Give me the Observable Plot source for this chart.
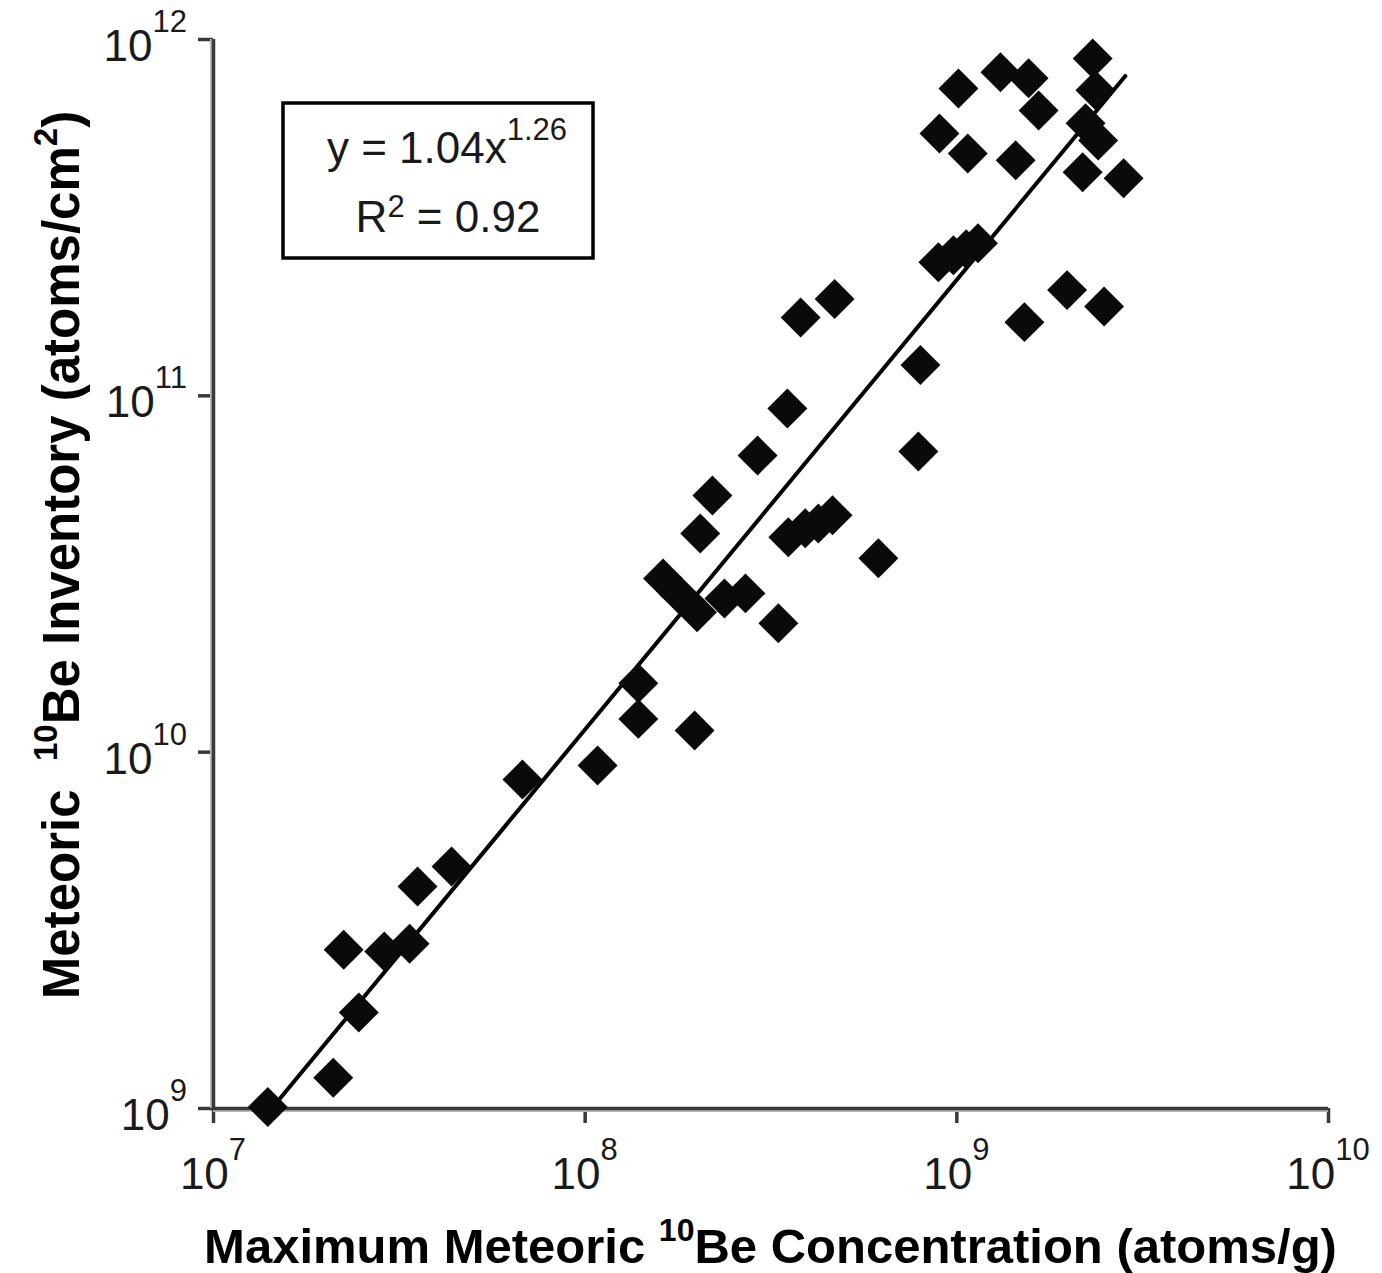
<!DOCTYPE html>
<html>
<head>
<meta charset="utf-8">
<script src="https://cdn.jsdelivr.net/npm/d3@7"></script>
<script src="https://cdn.jsdelivr.net/npm/@observablehq/plot@0.6"></script>
<style>
  html, body { margin: 0; padding: 0; background: #fff; }
  #chart svg { display: block; }
</style>
</head>
<body>
<div id="chart"></div>
<script>
// ---- data ----
const concentration = [
  1.40e7, 2.10e7, 2.46e7, 2.24e7, 2.88e7, 3.37e7, 3.54e7, 4.37e7,
  6.78e7, 1.08e8, 1.39e8, 1.39e8, 1.97e8, 1.62e8, 1.80e8, 2.00e8,
  2.37e8, 2.70e8, 2.04e8, 2.20e8, 2.91e8, 3.50e8, 3.31e8, 3.52e8,
  3.91e8, 4.24e8, 4.63e8, 6.15e8, 3.80e8, 4.69e8, 7.98e8, 7.88e8,
  8.92e8, 9.79e8, 1.06e9, 1.14e9, 1.52e9, 1.98e9, 2.49e9, 8.98e8,
  1.07e9, 1.44e9, 1.01e9, 1.31e9, 1.56e9, 1.66e9, 2.32e9, 2.36e9,
  2.22e9, 2.40e9, 2.18e9, 2.81e9
];
const inventory = [
  1.01e9, 1.22e9, 1.86e9, 2.79e9, 2.76e9, 2.90e9, 4.20e9, 4.78e9,
  8.38e9, 9.18e9, 1.56e10, 1.24e10, 1.15e10, 3.07e10, 2.75e10, 2.47e10,
  2.70e10, 2.79e10, 4.11e10, 5.25e10, 6.80e10, 9.22e10, 2.30e10, 4.01e10,
  4.25e10, 4.38e10, 4.62e10, 3.50e10, 1.66e11, 1.87e11, 1.22e11, 6.98e10,
  2.37e11, 2.48e11, 2.58e11, 2.68e11, 1.61e11, 1.98e11, 1.78e11, 5.45e11,
  4.79e11, 4.58e11, 7.29e11, 8.09e11, 7.78e11, 6.32e11, 8.85e11, 7.20e11,
  5.82e11, 5.21e11, 4.24e11, 4.08e11
];
// fitted power-law trend line endpoints
const trendX = [1.40e7, 2.84e9];
const trendY = [9.7e8, 7.9e11];

const xTicks = [1e7, 1e8, 1e9, 1e10];
const yTicks = [1e9, 1e10, 1e11, 1e12];

// text parts: [text, isSuperscript]
const xTitleParts = [["Maximum Meteoric ", false], ["10", true], ["Be Concentration (atoms/g)", false]];
const yTitleParts = [["Meteoric  ", false], ["10", true], ["Be Inventory (atoms/cm", false], ["2", true], [")", false]];
const eqLine1 = [["y = 1.04x", false], ["1.26", true]];
const eqLine2 = [["R", false], ["2", true], [" = 0.92", false]];

// ---- build ----
const points = concentration.map((c, i) => ({c, inv: inventory[i]}));
const trend = trendX.map((x, i) => ({x, y: trendY[i]}));

const FONT = "'Liberation Sans', Arial, Helvetica, sans-serif";
const AXIS = "#3a3a3a";

const plot = Plot.plot({
  width: 1382,
  height: 1273,
  marginLeft: 213,
  marginRight: 54,
  marginTop: 39,
  marginBottom: 165,
  style: {fontFamily: FONT, background: "#fff", color: "#000"},
  x: {type: "log", domain: [1e7, 1e10]},
  y: {type: "log", domain: [1e9, 1e12]},
  marks: [
    Plot.axisX(xTicks, {tickSize: 15, stroke: AXIS, strokeWidth: 3.5, tickFormat: () => "", label: null}),
    Plot.axisY(yTicks, {tickSize: 15, stroke: AXIS, strokeWidth: 3.5, tickFormat: () => "", label: null}),
    Plot.ruleX([1e7], {stroke: "#b8b8b8", strokeWidth: 2, dx: -2.5}),
    Plot.ruleY([1e9], {stroke: "#b8b8b8", strokeWidth: 2, dy: 2.5}),
    Plot.ruleX([1e7], {stroke: AXIS, strokeWidth: 3.5}),
    Plot.ruleY([1e9], {stroke: AXIS, strokeWidth: 3.5}),
    Plot.line(trend, {x: "x", y: "y", stroke: "#000", strokeWidth: 4}),
    Plot.dot(points, {x: "c", y: "inv", symbol: "diamond2", r: 18, fill: "#0a0a0a", stroke: "none"})
  ]
});

const svg = d3.select(plot);
const sx = plot.scale("x"), sy = plot.scale("y");

function addParts(textSel, parts, baseSize, supSize, raise) {
  let up = false;
  parts.forEach(([t, sup]) => {
    const ts = textSel.append("tspan").text(t);
    if (sup && !up) { ts.attr("dy", -raise).attr("font-size", supSize); up = true; }
    else if (!sup && up) { ts.attr("dy", raise).attr("font-size", baseSize); up = false; }
    else ts.attr("font-size", sup ? supSize : baseSize);
  });
}

const labels = svg.append("g").attr("font-family", FONT).attr("fill", "#1a1a1a");
// x tick labels
xTicks.forEach(t => {
  const e = Math.round(Math.log10(t));
  const tx = labels.append("text")
    .attr("x", sx.apply(t)).attr("y", sy.apply(1e9) + 81)
    .attr("text-anchor", "middle").attr("font-size", 44);
  addParts(tx, [["10", false], [String(e), true]], 44, 31, 29);
});
// y tick labels
yTicks.forEach(t => {
  const e = Math.round(Math.log10(t));
  const ty = labels.append("text")
    .attr("x", sx.apply(1e7) - 26).attr("y", sy.apply(t) + 22)
    .attr("text-anchor", "end").attr("font-size", 44);
  addParts(ty, [["10", false], [String(e), true]], 44, 31, 29);
});

// axis titles
const x0 = sx.apply(1e7), x1 = sx.apply(1e10);
const xt = svg.append("text")
  .attr("x", (x0 + x1) / 2).attr("y", 1263)
  .attr("text-anchor", "middle").attr("font-family", FONT)
  .attr("font-weight", "bold").attr("font-size", 49).attr("fill", "#000")
  .style("white-space", "pre");
addParts(xt, xTitleParts, 49, 32, 22);

const yt = svg.append("text")
  .attr("transform", `translate(79, 555) rotate(-90)`)
  .attr("text-anchor", "middle").attr("font-family", FONT)
  .attr("font-weight", "bold").attr("font-size", 51).attr("fill", "#000")
  .style("white-space", "pre");
addParts(yt, yTitleParts, 51, 33, 22);

// equation box
const box = svg.append("g").attr("font-family", FONT).attr("fill", "#1a1a1a");
box.append("rect").attr("x", 283).attr("y", 103).attr("width", 310).attr("height", 155)
  .attr("fill", "#fff").attr("stroke", "#000").attr("stroke-width", 3.5);
const l1 = box.append("text").attr("x", 447).attr("y", 163).attr("text-anchor", "middle").attr("font-size", 44);
addParts(l1, eqLine1, 44, 31, 23);
const l2 = box.append("text").attr("x", 448).attr("y", 232).attr("text-anchor", "middle").attr("font-size", 44);
addParts(l2, eqLine2, 44, 31, 15);

document.getElementById("chart").appendChild(plot);
</script>
</body>
</html>
